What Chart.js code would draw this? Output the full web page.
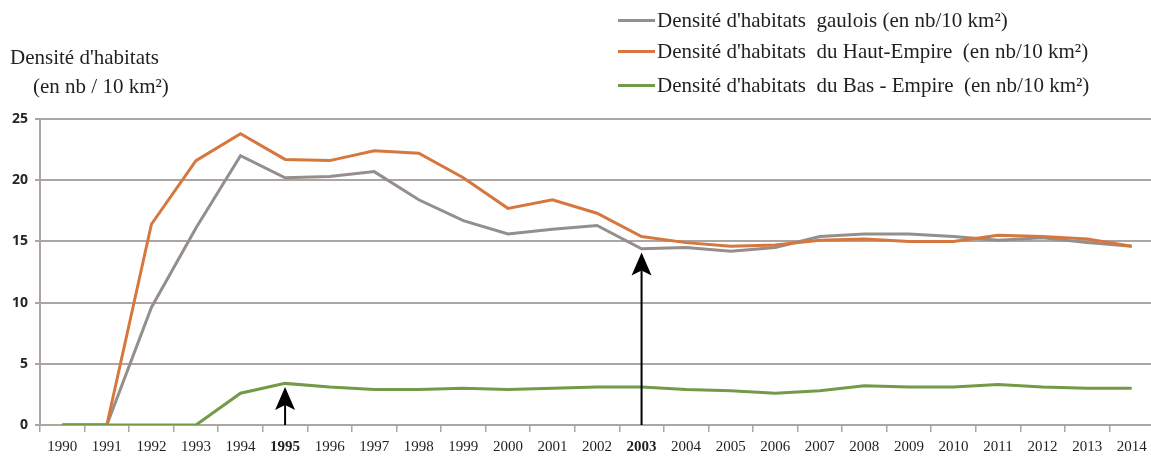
<!DOCTYPE html>
<html lang="fr">
<head>
<meta charset="utf-8">
<title>Densité d'habitats</title>
<script src="https://cdn.jsdelivr.net/npm/chart.js@4.4.1/dist/chart.umd.min.js"></script>
<style>
  html, body { margin: 0; padding: 0; background: #fff; overflow: hidden; }
  #wrap { position: relative; width: 1151px; height: 457px; overflow: hidden; }
  #chart { position: absolute; left: 0; top: 0; }
  .txt {
    position: absolute;
    font-family: "Liberation Serif", "DejaVu Serif", serif;
    font-size: 21px;
    line-height: 24px;
    color: #231f20;
    white-space: pre;
  }
  .swatch { position: absolute; width: 37px; height: 3px; }
</style>
</head>
<body>
<div id="wrap">
  <canvas id="chart" width="1154" height="457"></canvas>
  <div class="txt" style="left:10px; top:45px;">Densité d'habitats</div>
  <div class="txt" style="left:33px; top:74px;">(en nb / 10 km²)</div>
  <div id="legend"></div>
</div>
<script>
// données
const years = ['1990', '1991', '1992', '1993', '1994', '1995', '1996', '1997', '1998', '1999',
  '2000', '2001', '2002', '2003', '2004', '2005', '2006', '2007', '2008', '2009',
  '2010', '2011', '2012', '2013', '2014'];

const gaulois = [0, 0, 9.6, 16.1, 22.0, 20.2, 20.3, 20.7, 18.4, 16.7,
  15.6, 16.0, 16.3, 14.4, 14.5, 14.2, 14.5, 15.4, 15.6, 15.6,
  15.4, 15.1, 15.3, 14.9, 14.6];

const hautEmpire = [0, 0, 16.4, 21.6, 23.8, 21.7, 21.6, 22.4, 22.2, 20.2,
  17.7, 18.4, 17.3, 15.4, 14.9, 14.6, 14.7, 15.1, 15.2, 15.0,
  15.0, 15.5, 15.4, 15.2, 14.6];

const basEmpire = [0, 0, 0, 0, 2.6, 3.4, 3.1, 2.9, 2.9, 3.0,
  2.9, 3.0, 3.1, 3.1, 2.9, 2.8, 2.6, 2.8, 3.2, 3.1,
  3.1, 3.3, 3.1, 3.0, 3.0];

const seriesLabels = [
  "Densité d'habitats  gaulois (en nb/10 km²)",
  "Densité d'habitats  du Haut-Empire  (en nb/10 km²)",
  "Densité d'habitats  du Bas - Empire  (en nb/10 km²)"
];
const seriesColors = ['#948e8c', '#d5773f', '#739a48'];

const yTicks = [0, 5, 10, 15, 20, 25];
const boldYears = ['1995', '2003'];

// flèches : année et valeur de la pointe
const arrowYears = ['1995', '2003'];
const arrowTips = [3.1, 14.1];

const gridColor = '#ada5a1';

// légende en HTML
const legendTops = [8, 39, 73];
const legend = document.getElementById('legend');
seriesLabels.forEach((label, i) => {
  const row = document.createElement('div');
  row.className = 'txt';
  row.style.left = '657px';
  row.style.top = legendTops[i] + 'px';
  row.textContent = label;
  const sw = document.createElement('div');
  sw.className = 'swatch';
  sw.style.left = '618px';
  sw.style.top = (legendTops[i] + 11) + 'px';
  sw.style.background = seriesColors[i];
  legend.appendChild(sw);
  legend.appendChild(row);
});

// dessin des flèches
const arrowPlugin = {
  id: 'arrows',
  afterDatasetsDraw(chart) {
    const ctx = chart.ctx;
    const xs = chart.scales.x;
    const ys = chart.scales.y;
    ctx.save();
    ctx.fillStyle = '#000';
    ctx.strokeStyle = '#000';
    ctx.lineWidth = 2;
    arrowYears.forEach((yr, i) => {
      const x = xs.getPixelForValue(years.indexOf(yr));
      const yBase = ys.getPixelForValue(0);
      const yTip = ys.getPixelForValue(arrowTips[i]);
      const headLen = 23, headW = 10, notch = 18;
      ctx.beginPath();
      ctx.moveTo(x, yBase);
      ctx.lineTo(x, yTip + notch);
      ctx.stroke();
      ctx.beginPath();
      ctx.moveTo(x, yTip);
      ctx.lineTo(x + headW, yTip + headLen);
      ctx.lineTo(x, yTip + notch);
      ctx.lineTo(x - headW, yTip + headLen);
      ctx.closePath();
      ctx.fill();
    });
    ctx.restore();
  }
};

const mkDataset = (i, data, order) => ({
  label: seriesLabels[i],
  data: data,
  borderColor: seriesColors[i],
  backgroundColor: seriesColors[i],
  borderWidth: 3,
  pointRadius: 0,
  tension: 0,
  fill: false,
  order: order
});

new Chart(document.getElementById('chart'), {
  type: 'line',
  data: {
    labels: years,
    datasets: [
      mkDataset(0, gaulois, 2),
      mkDataset(1, hautEmpire, 1),
      mkDataset(2, basEmpire, 0)
    ]
  },
  options: {
    responsive: false,
    animation: false,
    layout: { padding: { top: 119, left: 0, right: 0, bottom: 0 } },
    plugins: {
      legend: { display: false },
      title: { display: false },
      tooltip: { enabled: false }
    },
    scales: {
      x: {
        type: 'category',
        offset: true,
        grid: {
          offset: true,
          drawOnChartArea: false,
          drawTicks: true,
          tickLength: 7,
          color: gridColor,
          lineWidth: 1.5
        },
        border: { display: true, color: gridColor, width: 2 },
        ticks: {
          autoSkip: false,
          maxRotation: 0,
          padding: 6,
          color: '#231f20',
          font: (c) => ({
            family: '"Liberation Serif", "DejaVu Serif", serif',
            size: 15,
            weight: (c.tick && boldYears.includes(c.tick.label)) ? 'bold' : 'normal'
          })
        },
        afterFit(scale) { scale.height = 32; }
      },
      y: {
        min: 0,
        max: 25,
        afterBuildTicks(scale) { scale.ticks = yTicks.map(v => ({ value: v })); },
        grid: {
          color: gridColor,
          lineWidth: 2,
          tickLength: 5
        },
        border: { display: true, color: gridColor, width: 2 },
        ticks: {
          padding: 7,
          color: '#262626',
          font: { family: '"Open Sans", "Liberation Sans", sans-serif', size: 14, weight: 'bold' }
        },
        afterFit(scale) { scale.width = 40; }
      }
    }
  },
  plugins: [arrowPlugin]
});
</script>
</body>
</html>
